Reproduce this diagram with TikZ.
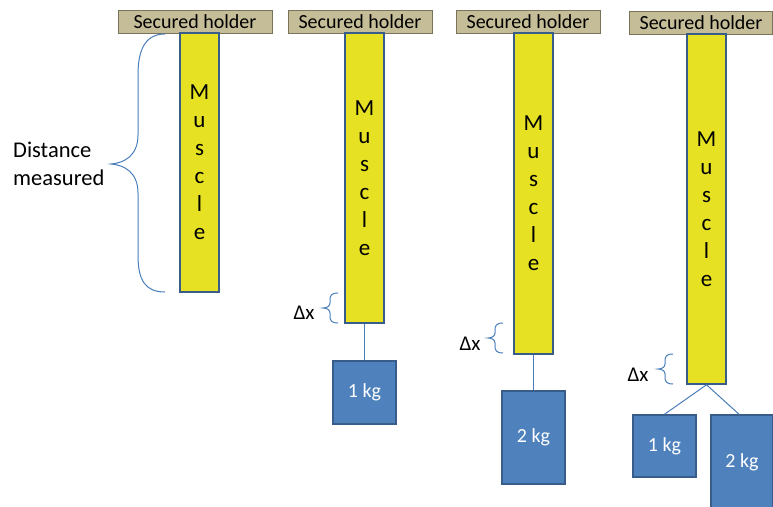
\documentclass[tikz,border=0pt]{standalone}
\usepackage{fontspec}
\setmainfont{Carlito}
\definecolor{holderfill}{RGB}{196,189,151}
\definecolor{holderline}{RGB}{120,115,90}
\definecolor{musclefill}{RGB}{230,225,35}
\definecolor{darkblue}{RGB}{56,93,138}
\definecolor{weightfill}{RGB}{79,129,189}
\definecolor{linkblue}{RGB}{74,126,187}
\tikzset{
  holder/.style={draw=holderline, fill=holderfill, line width=1pt, inner sep=0pt,
    minimum height=23pt, font=\fontsize{20}{20}\selectfont},
  muscle/.style={draw=darkblue, fill=musclefill, line width=1.5pt, inner sep=0pt,
    minimum width=39pt, align=center, font=\fontsize{23}{28}\selectfont},
  weight/.style={draw=darkblue, fill=weightfill, line width=1.5pt, inner sep=0pt,
    text=white, font=\fontsize{20}{20}\selectfont},
  link/.style={draw=linkblue, line width=1pt},
  lbl/.style={inner sep=0pt, font=\fontsize{22.5}{28}\selectfont, align=left},
  dxlbl/.style={inner sep=0pt, font=\fontsize{21}{21}\selectfont},
  sbrace/.pic={
    \draw[link] (0,-15) .. controls (-7,-15) and (-8,-12) .. (-8,-8) -- (-8,-5)
      .. controls (-8,-2) and (-11,0) .. (-15,0)
      .. controls (-11,0) and (-8,2) .. (-8,5) -- (-8,8)
      .. controls (-8,12) and (-7,15) .. (0,15);
  }
}
\begin{document}
\begin{tikzpicture}[x=1pt,y=-1pt]
\useasboundingbox (0,0) rectangle (773,506);
% holders
\node[holder, minimum width=154pt] (h1) at (195,21.5) {Secured holder};
\node[holder, minimum width=144pt] (h2) at (360,21.5) {Secured holder};
\node[holder, minimum width=144pt] (h3) at (528,21.5) {Secured holder};
\node[holder, minimum width=143pt] (h4) at (701,23) {Secured holder};
% muscles
\node[muscle, minimum height=259pt] (m1) at (199.5,162.5) {M\\u\\s\\c\\l\\e};
\node[muscle, minimum height=290pt] (m2) at (364.5,178) {M\\u\\s\\c\\l\\e};
\node[muscle, minimum height=321pt] (m3) at (533.5,193.5) {M\\u\\s\\c\\l\\e};
\node[muscle, minimum height=350pt] (m4) at (706.5,209) {M\\u\\s\\c\\l\\e};
% weights
\node[weight, minimum width=63pt, minimum height=63pt] (w2) at (364.5,392.5) {1 kg};
\node[weight, minimum width=63pt, minimum height=93pt] (w3) at (533.5,437.5) {2 kg};
\node[weight, minimum width=63pt, minimum height=62pt] (w4a) at (664.5,446) {1 kg};
\node[weight, minimum width=62pt, minimum height=95pt] (w4b) at (742,462.5) {2 kg};
% connectors
\draw[link] (m2.south) -- (w2.north);
\draw[link] (m3.south) -- (w3.north);
\coordinate (j4) at (m4.south);
\draw[link] (j4) -- (w4a.north);
\draw[link] (j4) -- ([xshift=-3pt]w4b.north);
% big brace
\draw[link] (165,34) .. controls (145,34) and (138,50) .. (138,75) -- (138,135)
  .. controls (138,155) and (125,163) .. (111,164)
  .. controls (125,165) and (138,173) .. (138,193) -- (138,255)
  .. controls (138,280) and (145,292) .. (165,292);
\node[lbl, anchor=west] (dm) at (13,164) {Distance\\measured};
% small braces
\pic at (338,308) {sbrace};
\pic at (503,338) {sbrace};
\pic at (673,369) {sbrace};
\node[dxlbl] (dx2) at (304,313) {Δx};
\node[dxlbl] (dx3) at (470,344) {Δx};
\node[dxlbl] (dx4) at (638,375) {Δx};
\end{tikzpicture}
\end{document}
